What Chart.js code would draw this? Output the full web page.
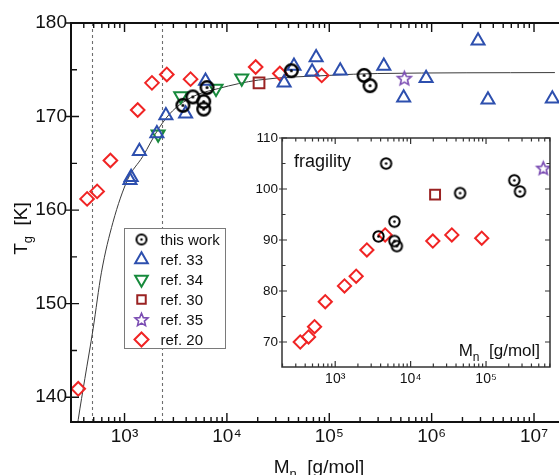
<!DOCTYPE html>
<html>
<head>
<meta charset="utf-8">
<script src="https://cdn.jsdelivr.net/npm/chart.js@4.4.0/dist/chart.umd.min.js"></script>
<style>
    html, body { margin: 0; padding: 0; background: #fff; overflow: hidden; }
    #wrap { position: relative; width: 559px; height: 475px; overflow: hidden; }
    #mainChart  { position: absolute; left: 0; top: 0; }
    #insetChart { position: absolute; left: 230px; top: 125px; }
</style>
</head>
<body>
<div id="wrap">
    <canvas id="mainChart" width="580" height="475"></canvas>
    <canvas id="insetChart" width="330" height="272"></canvas>
</div>
<script>
// ========= main plot: Tg [K] vs Mn [g/mol] =========
const thisWorkM  = [3720, 4650, 5940, 5940, 6400, 42600, 219000, 250000];
const thisWorkTg = [171.2, 172.1, 171.6, 170.8, 173.1, 174.9, 174.4, 173.3];

const ref33M  = [1130, 1160, 1397, 2070, 2535, 3950, 6180, 36200, 45200, 68000, 74400, 128000, 341000, 533000, 883000, 2840000, 3550000, 15100000];
const ref33Tg = [163.2, 163.5, 166.3, 168.2, 170.1, 170.3, 173.8, 173.6, 175.4, 174.8, 176.3, 174.9, 175.4, 172.0, 174.1, 178.1, 171.8, 171.9];

const ref34M  = [2130, 3540, 7830, 13960];
const ref34Tg = [168.1, 172.2, 173.0, 174.1];

const ref30M  = [20600];
const ref30Tg = [173.6];

const ref35M  = [541000];
const ref35Tg = [174.1];

const ref20M  = [353, 431, 540, 728, 1345, 1853, 2588, 4416, 19100, 32900, 84400];
const ref20Tg = [140.9, 161.2, 162.0, 165.3, 170.7, 173.6, 174.5, 174.0, 175.3, 174.6, 174.4];

// guide curve
const fitM  = [336, 353, 410, 493, 594, 771, 1076, 1500, 2180, 2940, 4580, 8300, 20300, 100000, 294000, 16000000];
const fitTg = [135.9, 137.6, 142.0, 147.3, 153.3, 158.7, 163.3, 165.7, 168.8, 170.6, 172.1, 173.0, 173.9, 174.4, 174.6, 174.7];

// dashed vertical markers
const dashedM = [480, 2340];

const mainXTicks      = [1e3, 1e4, 1e5, 1e6, 1e7];
const mainXTickLabels = ["10³", "10⁴", "10⁵", "10⁶", "10⁷"];
const mainYTicks      = [140, 150, 160, 170, 180];
const mainYMinor      = [145, 155, 165, 175];

// ========= inset: fragility vs Mn =========
const fragThisWorkM = [4730, 3750, 6100, 6100, 6560, 45300, 237000, 282000];
const fragThisWork  = [105.0, 90.7, 93.6, 89.8, 88.8, 99.2, 101.7, 99.5];

const fragRef30M = [21100];
const fragRef30  = [98.9];

const fragRef35M = [574000];
const fragRef35  = [104.1];

const fragRef20M = [344, 443, 532, 738, 1328, 1897, 2630, 4592, 19700, 35200, 87700];
const fragRef20  = [70.0, 71.0, 73.0, 77.9, 81.0, 82.9, 88.05, 91.0, 89.8, 91.0, 90.35];

const insetXTicks      = [1e3, 1e4, 1e5];
const insetXTickLabels = ["10³", "10⁴", "10⁵"];
const insetYTicks      = [70, 80, 90, 100, 110];
const insetYMinor      = [75, 85, 95, 105];

// ========= styles =========
const FONT   = "'Liberation Sans', Arial, sans-serif";
const BLUE   = "#2d4fae";
const GREEN  = "#178a3c";
const DKRED  = "#9a2222";
const PURPLE = "#7b4db3";
const RED    = "#f02424";
const CLEAR  = "rgba(0,0,0,0)";

function pts(xs, ys) {
    return xs.map((x, i) => ({ x: x, y: ys[i] }));
}

// circled dot marker as an image point style
function makeCircleDot(r, lw, dotR) {
    const s = Math.ceil(2 * r + lw + 2);
    const c = document.createElement("canvas");
    c.width = s; c.height = s;
    const g = c.getContext("2d");
    g.strokeStyle = "#000";
    g.lineWidth = lw;
    g.beginPath(); g.arc(s / 2, s / 2, r, 0, Math.PI * 2); g.stroke();
    g.fillStyle = "#000";
    g.beginPath(); g.arc(s / 2, s / 2, dotR, 0, Math.PI * 2); g.fill();
    return c;
}

// open five-point star
function makeStar(ro, lw, color) {
    const ri = ro * 0.45;
    const s = Math.ceil(2 * ro + lw + 3);
    const c = document.createElement("canvas");
    c.width = s; c.height = s;
    const g = c.getContext("2d");
    g.strokeStyle = color;
    g.lineWidth = lw;
    g.lineJoin = "miter";
    g.beginPath();
    for (let i = 0; i < 10; i++) {
        const ang = -Math.PI / 2 + i * Math.PI / 5;
        const r = i % 2 ? ri : ro;
        const px = s / 2 + Math.cos(ang) * r;
        const py = s / 2 + 0.6 + Math.sin(ang) * r;
        if (i === 0) g.moveTo(px, py); else g.lineTo(px, py);
    }
    g.closePath();
    g.stroke();
    return c;
}

const circleMain   = makeCircleDot(6.3, 2.4, 1.5);
const circleInset  = makeCircleDot(5.2, 2.0, 1.3);
const circleLegend = makeCircleDot(5.0, 2.0, 1.3);
const starMain     = makeStar(7.2, 1.6, PURPLE);
const starInset    = makeStar(6.8, 1.6, PURPLE);
const starLegend   = makeStar(6.8, 1.6, PURPLE);

// minor/major tick values of a log axis
function logTickValues(min, max) {
    const out = [];
    for (let e = Math.floor(Math.log10(min)); e <= Math.ceil(Math.log10(max)); e++) {
        for (let k = 1; k <= 9; k++) {
            const v = k * Math.pow(10, e);
            if (v >= min && v <= max) out.push(v);
        }
    }
    return out;
}

// ========= plugins =========
// frame box with inward tick marks
const frameTicks = {
    id: "frameTicks",
    afterDatasetsDraw(chart, args, o) {
        const { ctx, chartArea: a } = chart;
        const xs = chart.scales.x, ys = chart.scales.y;
        ctx.save();
        ctx.strokeStyle = o.color;
        ctx.lineWidth = o.tickWidth;
        ctx.beginPath();
        logTickValues(xs.min, xs.max).forEach(v => {
            const px = xs.getPixelForValue(v);
            const len = o.xMajor.includes(v) ? o.xMajorLen : o.xMinorLen;
            ctx.moveTo(px, a.bottom); ctx.lineTo(px, a.bottom - len);
            ctx.moveTo(px, a.top);    ctx.lineTo(px, a.top + len);
        });
        o.yMajor.forEach(v => {
            const py = ys.getPixelForValue(v);
            ctx.moveTo(a.left - o.yOut, py); ctx.lineTo(a.left + o.yMajorLen, py);
            ctx.moveTo(a.right, py); ctx.lineTo(a.right - o.yMajorLen, py);
        });
        o.yMinor.forEach(v => {
            const py = ys.getPixelForValue(v);
            ctx.moveTo(a.left, py);  ctx.lineTo(a.left + o.yMinorLen, py);
            ctx.moveTo(a.right, py); ctx.lineTo(a.right - o.yMinorLen, py);
        });
        ctx.stroke();
        ctx.lineWidth = o.frameWidth;
        ctx.strokeRect(a.left, a.top, a.right - a.left, a.bottom - a.top);
        ctx.restore();
    }
};

// white plot background (inset covers main plot)
const areaFill = {
    id: "areaFill",
    beforeDraw(chart, args, o) {
        if (!o.color) return;
        const { ctx, chartArea: a } = chart;
        ctx.save();
        ctx.fillStyle = o.color;
        ctx.fillRect(a.left, a.top, a.right - a.left, a.bottom - a.top);
        ctx.restore();
    }
};

// dashed vertical lines at fixed Mn
const dashLines = {
    id: "dashLines",
    beforeDatasetsDraw(chart, args, o) {
        if (!o.values) return;
        const { ctx, chartArea: a } = chart;
        ctx.save();
        ctx.strokeStyle = "#6e6e6e";
        ctx.lineWidth = 1.1;
        ctx.setLineDash([3, 3]);
        o.values.forEach(v => {
            const px = Math.round(chart.scales.x.getPixelForValue(v)) + 0.5;
            ctx.beginPath();
            ctx.moveTo(px, a.top);
            ctx.lineTo(px, a.bottom);
            ctx.stroke();
        });
        ctx.restore();
    }
};

// text with a subscript part: parts = [[text, size, dy], ...]
function drawParts(ctx, parts, x, y, align) {
    let total = 0;
    parts.forEach(p => { ctx.font = p[1] + "px " + FONT; total += ctx.measureText(p[0]).width; });
    let cx = align === "center" ? x - total / 2 : (align === "right" ? x - total : x);
    ctx.textAlign = "left";
    ctx.textBaseline = "alphabetic";
    parts.forEach(p => {
        ctx.font = p[1] + "px " + FONT;
        ctx.fillText(p[0], cx, y + (p[2] || 0));
        cx += ctx.measureText(p[0]).width;
    });
}

const axisTexts = {
    id: "axisTexts",
    afterDraw(chart, args, o) {
        const { ctx, chartArea: a } = chart;
        ctx.save();
        ctx.fillStyle = "#111";
        (o.items || []).forEach(it => {
            ctx.save();
            const x = it.ax === "right" ? a.right + it.dx : (it.ax === "center" ? (a.left + a.right) / 2 + it.dx : a.left + it.dx);
            const y = it.ay === "bottom" ? a.bottom + it.dy : (it.ay === "middle" ? (a.top + a.bottom) / 2 + it.dy : a.top + it.dy);
            ctx.translate(x, y);
            if (it.rotate) ctx.rotate(it.rotate);
            drawParts(ctx, it.parts, 0, 0, it.align);
            ctx.restore();
        });
        ctx.restore();
    }
};

// boxed legend inside the plot
const boxLegend = {
    id: "boxLegend",
    afterDatasetsDraw(chart, args, o) {
        if (!o.items) return;
        const { ctx, chartArea: a } = chart;
        const x0 = Math.round(a.left + o.left) + 0.5, y0 = Math.round(a.top + o.top) + 0.5;
        ctx.save();
        ctx.fillStyle = "#fff";
        ctx.fillRect(x0, y0, o.width, o.height);
        ctx.strokeStyle = "#7a7a7a";
        ctx.lineWidth = 1;
        ctx.strokeRect(x0, y0, o.width, o.height);
        o.items.forEach((it, i) => {
            const cy = y0 + o.first + i * o.step;
            ctx.save();
            ctx.strokeStyle = it.color;
            ctx.fillStyle = CLEAR;
            ctx.lineWidth = 2;
            Chart.helpers.drawPoint(ctx, { pointStyle: it.style, radius: it.radius, rotation: it.rotation || 0, borderWidth: 2 }, x0 + o.markX, cy);
            ctx.restore();
            ctx.fillStyle = "#111";
            ctx.font = o.fontSize + "px " + FONT;
            ctx.textAlign = "left";
            ctx.textBaseline = "middle";
            ctx.fillText(it.label, x0 + o.textX, cy + 1);
        });
        ctx.restore();
    }
};

function openMarker(label, data, style, radius, color, rotation) {
    return {
        label: label,
        data: data,
        showLine: false,
        pointStyle: style,
        pointRadius: radius,
        pointRotation: rotation || 0,
        pointBorderWidth: 2,
        pointBorderColor: color,
        pointBackgroundColor: CLEAR,
        borderColor: color,
        backgroundColor: CLEAR
    };
}

document.addEventListener("DOMContentLoaded", () => {
    // ======================= MAIN CHART =======================
    const mainChart = new Chart(document.getElementById("mainChart"), {
        type: "scatter",
        data: {
            datasets: [
                openMarker("this work", pts(thisWorkM, thisWorkTg), circleMain, 7, "#000"),
                openMarker("ref. 33", pts(ref33M, ref33Tg), "triangle", 7.5, BLUE),
                openMarker("ref. 34", pts(ref34M, ref34Tg), "triangle", 7.5, GREEN, 180),
                openMarker("ref. 30", pts(ref30M, ref30Tg), "rect", 7.6, DKRED),
                openMarker("ref. 35", pts(ref35M, ref35Tg), starMain, 7, PURPLE),
                openMarker("ref. 20", pts(ref20M, ref20Tg), "rectRot", 6.8, RED),
                {
                    label: "fit",
                    data: pts(fitM, fitTg),
                    showLine: true,
                    pointRadius: 0,
                    borderColor: "#3a3a3a",
                    borderWidth: 1,
                    cubicInterpolationMode: "monotone"
                }
            ]
        },
        options: {
            responsive: false,
            devicePixelRatio: 1,
            animation: false,
            events: [],
            layout: { padding: { top: 23, right: 13, left: 0, bottom: 0 } },
            scales: {
                x: {
                    type: "logarithmic",
                    min: 300,
                    max: 2.1e7,
                    grid: { display: false, drawTicks: false },
                    border: { display: false },
                    afterBuildTicks: s => { s.ticks = mainXTicks.map(v => ({ value: v })); },
                    afterFit: s => { s.height = 53; },
                    ticks: {
                        autoSkip: false,
                        maxRotation: 0,
                        padding: 3,
                        color: "#111",
                        font: { family: FONT, size: 19 },
                        callback: (v, i) => mainXTickLabels[i]
                    }
                },
                y: {
                    min: 137.35,
                    max: 180,
                    grid: { display: false, drawTicks: false },
                    border: { display: false },
                    afterBuildTicks: s => { s.ticks = mainYTicks.map(v => ({ value: v })); },
                    afterFit: s => { s.width = 71; },
                    ticks: {
                        padding: 4,
                        color: "#111",
                        font: { family: FONT, size: 19 },
                        callback: v => String(v)
                    }
                }
            },
            plugins: {
                legend: { display: false },
                tooltip: { enabled: false },
                dashLines: { values: dashedM },
                frameTicks: {
                    color: "#111", tickWidth: 1.4, frameWidth: 2,
                    xMajor: mainXTicks, xMajorLen: 9, xMinorLen: 5,
                    yMajor: mainYTicks, yMinor: mainYMinor, yOut: 5, yMajorLen: 8, yMinorLen: 6
                },
                boxLegend: {
                    left: 53, top: 205, width: 101, height: 120,
                    first: 11, step: 20, markX: 17, textX: 36, fontSize: 15,
                    items: [
                        { label: "this work", style: circleLegend, radius: 5, color: "#000" },
                        { label: "ref. 33", style: "triangle", radius: 7.3, color: BLUE },
                        { label: "ref. 34", style: "triangle", radius: 7.3, color: GREEN, rotation: 180 },
                        { label: "ref. 30", style: "rect", radius: 6, color: DKRED },
                        { label: "ref. 35", style: starLegend, radius: 7, color: PURPLE },
                        { label: "ref. 20", style: "rectRot", radius: 7, color: RED }
                    ]
                },
                axisTexts: {
                    items: [
                        { ax: "center", dx: 0, ay: "bottom", dy: 51,
                          parts: [["M", 19], ["n", 13, 5], ["  [g/mol]", 19]], align: "center" },
                        { ax: "left", dx: -44, ay: "middle", dy: 6, rotate: -Math.PI / 2,
                          parts: [["T", 19], ["g", 13, 5], ["  [K]", 19]], align: "center" }
                    ]
                }
            }
        },
        plugins: [dashLines, frameTicks, boxLegend, axisTexts]
    });

    // ======================= INSET: FRAGILITY =======================
    const insetChart = new Chart(document.getElementById("insetChart"), {
        type: "scatter",
        data: {
            datasets: [
                openMarker("this work", pts(fragThisWorkM, fragThisWork), circleInset, 6, "#000"),
                openMarker("ref. 30", pts(fragRef30M, fragRef30), "rect", 7, DKRED),
                openMarker("ref. 35", pts(fragRef35M, fragRef35), starInset, 7, PURPLE),
                openMarker("ref. 20", pts(fragRef20M, fragRef20), "rectRot", 6.6, RED)
            ]
        },
        options: {
            responsive: false,
            devicePixelRatio: 1,
            animation: false,
            events: [],
            layout: { padding: { top: 13, right: 10, left: 0, bottom: 0 } },
            scales: {
                x: {
                    type: "logarithmic",
                    min: 197,
                    max: 7.05e5,
                    grid: { display: false, drawTicks: false },
                    border: { display: false },
                    afterBuildTicks: s => { s.ticks = insetXTicks.map(v => ({ value: v })); },
                    afterFit: s => { s.height = 30; },
                    ticks: {
                        autoSkip: false,
                        maxRotation: 0,
                        padding: 4,
                        color: "#111",
                        font: { family: FONT, size: 14 },
                        callback: (v, i) => insetXTickLabels[i]
                    }
                },
                y: {
                    min: 65.1,
                    max: 110,
                    grid: { display: false, drawTicks: false },
                    border: { display: false },
                    afterBuildTicks: s => { s.ticks = insetYTicks.map(v => ({ value: v })); },
                    afterFit: s => { s.width = 52; },
                    ticks: {
                        padding: 4,
                        color: "#111",
                        font: { family: FONT, size: 13.5 },
                        callback: v => String(v)
                    }
                }
            },
            plugins: {
                legend: { display: false },
                tooltip: { enabled: false },
                areaFill: { color: "#fff" },
                frameTicks: {
                    color: "#333", tickWidth: 1.2, frameWidth: 1.5,
                    xMajor: insetXTicks, xMajorLen: 6, xMinorLen: 3.5,
                    yMajor: insetYTicks, yMinor: insetYMinor, yOut: 3, yMajorLen: 5, yMinorLen: 3.5
                },
                axisTexts: {
                    items: [
                        { ax: "left", dx: 12, ay: "top", dy: 29, parts: [["fragility", 18]], align: "left" },
                        { ax: "right", dx: -10, ay: "bottom", dy: -11,
                          parts: [["M", 17], ["n", 12, 5], ["  [g/mol]", 17]], align: "right" }
                    ]
                }
            }
        },
        plugins: [areaFill, frameTicks, axisTexts]
    });
});
</script>
</body>
</html>
